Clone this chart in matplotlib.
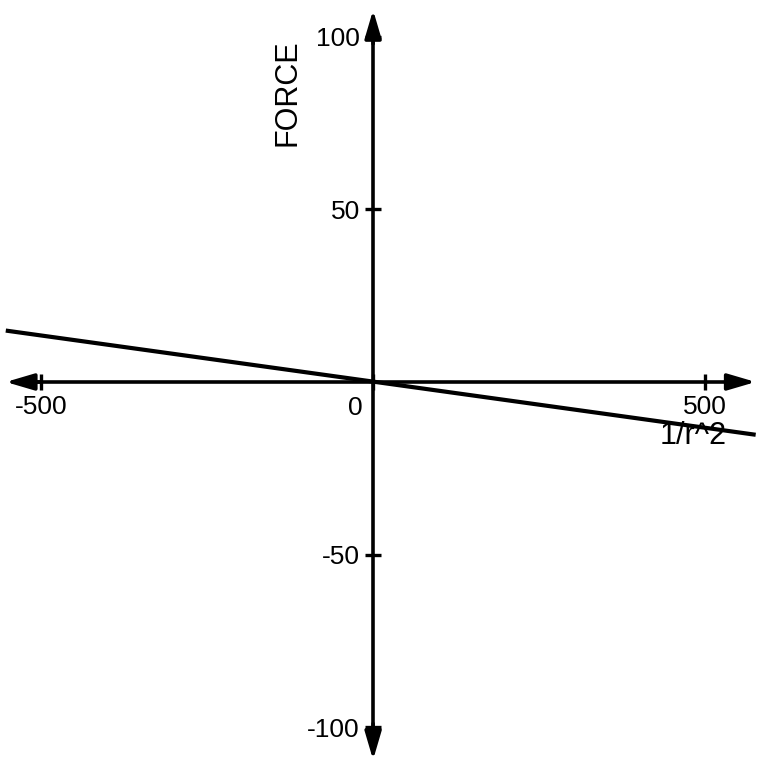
import matplotlib
matplotlib.use('Agg')
import matplotlib.pyplot as plt

plt.rcParams['font.family'] = ['Liberation Sans', 'DejaVu Sans']

# line data (force vs 1/r^2)
inv_r2 = [-553, 576]
force = [14.9, -15.3]

x_ticks = [-500, 0, 500]
x_labels = ['-500', '', '500']
y_ticks = [-100, -50, 50, 100]
y_labels = ['-100', '-50', '50', '100']

fig = plt.figure(figsize=(7.59, 7.65), dpi=100)
ax = fig.add_axes([0, 0, 1, 1])
ax.set_xlim(-561.7, 581)
ax.set_ylim(-111, 110.7)

ax.plot(inv_r2, force, color='black', lw=3.0, solid_capstyle='butt', zorder=3)

for s in ['top', 'right']:
    ax.spines[s].set_visible(False)
ax.spines['left'].set_position(('data', 0))
ax.spines['bottom'].set_position(('data', 0))
ax.spines['left'].set_linewidth(2.6)
ax.spines['bottom'].set_linewidth(2.6)
ax.spines['bottom'].set_bounds(-540, 560)
ax.spines['left'].set_bounds(-105, 104)

# arrow heads
hp = dict(arrowstyle='-|>,head_length=1.7,head_width=0.5', color='black', lw=2.6,
          shrinkA=0, shrinkB=0)
ax.annotate('', xy=(576, 0), xytext=(530, 0), arrowprops=hp)
ax.annotate('', xy=(-553, 0), xytext=(-500, 0), arrowprops=hp)
ax.annotate('', xy=(0, 107.8), xytext=(0, 98), arrowprops=hp)
ax.annotate('', xy=(0, -109.5), xytext=(0, -99), arrowprops=hp)

ax.set_xticks(x_ticks)
ax.set_xticklabels(x_labels)
ax.set_yticks(y_ticks)
ax.set_yticklabels(y_labels)
ax.tick_params(direction='inout', length=11, width=2.4, labelsize=19, pad=4)
ax.tick_params(axis='y', pad=4)

ax.text(-27, -4, '0', fontsize=19, ha='center', va='top')
ax.text(482, -15.6, '1/r^2', fontsize=22, ha='center', va='center')
ax.text(-129.5, 83.8, 'FORCE', fontsize=22, ha='center', va='center', rotation=90)

fig.savefig('out.png', dpi=100)
